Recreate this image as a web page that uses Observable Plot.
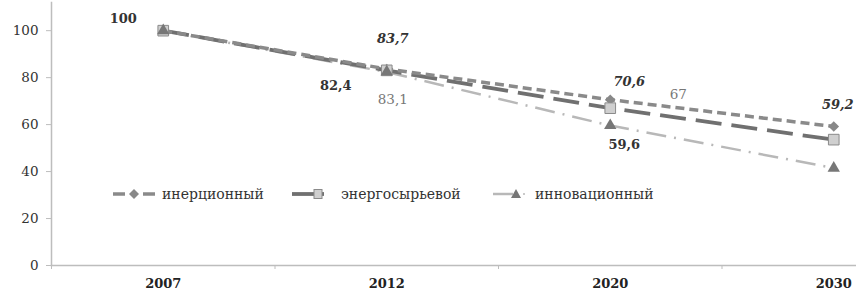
<!DOCTYPE html>
<html>
<head>
<meta charset="utf-8">
<script src="https://cdn.jsdelivr.net/npm/d3@7"></script>
<script src="https://cdn.jsdelivr.net/npm/@observablehq/plot@0.6"></script>
<style>
  html, body { margin: 0; padding: 0; background: #fff; overflow: hidden; }
  #wrap { position: relative; width: 856px; height: 302px; overflow: hidden; }
  .leg { position: absolute; display: flex; align-items: center; font-family: "DejaVu Serif", serif; font-size: 14px; color: #333; white-space: nowrap; }
  .leg svg { display: block; }
</style>
</head>
<body>
<div id="wrap"></div>
<script>
// ---- data ----
const years = ["2007", "2012", "2020", "2030"];
const inertial = [100, 83.7, 70.6, 59.2];
const energy = [100, 83.1, 67, 53.6];
const innovation = [100, 82.4, 59.6, 41.5];
const yTicks = [0, 20, 40, 60, 80, 100];
const seriesNames = ["инерционный", "энергосырьевой", "инновационный"];

// ---- helpers ----
const idx = years.map((_, i) => i);
const bounds = years.map((_, i) => i - 0.5);
const fmt = v => String(v).replace(".", ",");
const font = "DejaVu Serif";

function label(arr, i, opts) {
  return Plot.text([i], {
    x: d => d, y: d => arr[d], text: d => fmt(arr[d]),
    fontFamily: font, fontSize: 13, ...opts
  });
}

const chart = Plot.plot({
  width: 856, height: 302,
  marginLeft: 51, marginRight: 0, marginTop: 2, marginBottom: 37,
  style: { fontFamily: font, background: "#fff", overflow: "visible" },
  x: { type: "linear", domain: [-0.5, years.length - 0.5], range: [51, 945] },
  y: { domain: [0, 112] },
  marks: [
    Plot.frame({ anchor: "left", stroke: "#bdbdbd", strokeWidth: 1.5 }),
    Plot.frame({ anchor: "bottom", stroke: "#bdbdbd", strokeWidth: 1.5 }),
    Plot.axisY(yTicks, { tickSize: 5, tickPadding: 8, stroke: "#bdbdbd", fill: "#333", fontSize: 13.5, fontFamily: font }),
    Plot.axisX(bounds, { tickSize: 4, stroke: "#bdbdbd", tickFormat: () => "" }),
    Plot.axisX(idx, { tickSize: 0, tickPadding: 13, tickFormat: i => years[i], fill: "#222", fontWeight: "bold", fontSize: 13, fontFamily: font }),

    Plot.line(idx, { x: i => i, y: i => innovation[i], stroke: "#b8b8b8", strokeWidth: 2.5, strokeDasharray: "20,8,2,8", strokeLinecap: "butt" }),
    Plot.line(idx, { x: i => i, y: i => energy[i], stroke: "#707070", strokeWidth: 3.8, strokeDasharray: "26,10", strokeLinecap: "butt" }),
    Plot.line(idx, { x: i => i, y: i => inertial[i], stroke: "#8a8a8a", strokeWidth: 3.5, strokeDasharray: "9,5", strokeLinecap: "butt" }),

    Plot.dot(idx, { x: i => i, y: i => inertial[i], symbol: "diamond2", r: 4.8, fill: "#888", stroke: "none" }),
    Plot.dot(idx, { x: i => i, y: i => energy[i], symbol: "square", r: 6, fill: "#cfcfcf", stroke: "#8a8a8a", strokeWidth: 1 }),
    Plot.dot(idx, { x: i => i, y: i => innovation[i], symbol: "triangle", r: 4.6, fill: "#777", stroke: "none" }),

    label(innovation, 0, { dx: -40, dy: -12, fontWeight: "bold", fill: "#333" }),
    label(inertial, 1, { dx: 6, dy: -30, fontWeight: "bold", fontStyle: "italic", fill: "#333" }),
    label(innovation, 1, { dx: -51, dy: 14, fontWeight: "bold", fill: "#333" }),
    label(energy, 1, { dx: 6, dy: 29, fill: "#777", fontSize: 13.5 }),
    label(inertial, 2, { dx: 19, dy: -18, fontWeight: "bold", fontStyle: "italic", fill: "#333" }),
    label(energy, 2, { dx: 68, dy: -13, fill: "#777", fontSize: 13.5 }),
    label(innovation, 2, { dx: 14, dy: 19, fontWeight: "bold", fill: "#333" }),
    label(inertial, 3, { dx: 4, dy: -22, fontWeight: "bold", fontStyle: "italic", fill: "#333" })
  ]
});

const wrap = document.getElementById("wrap");
wrap.appendChild(chart);

// ---- legend (HTML overlay) ----
const swatches = [
  `<svg width="44" height="14"><line x1="0" y1="7" x2="12" y2="7" stroke="#8a8a8a" stroke-width="3.5"/><line x1="30" y1="7" x2="42" y2="7" stroke="#8a8a8a" stroke-width="3.5"/><path d="M21,2 L26,7 L21,12 L16,7 Z" fill="#888"/></svg>`,
  `<svg width="34" height="14"><line x1="0" y1="7" x2="32" y2="7" stroke="#707070" stroke-width="3.8"/><rect x="22" y="2.5" width="8" height="9" fill="#cfcfcf" stroke="#8a8a8a" stroke-width="1"/></svg>`,
  `<svg width="42" height="14"><line x1="0" y1="7" x2="20" y2="7" stroke="#b8b8b8" stroke-width="2.5"/><path d="M23,2 L28,11 L18,11 Z" fill="#777"/><circle cx="31" cy="7" r="1" fill="#b8b8b8"/></svg>`
];
const legPos = [{ left: 113, gap: 5 }, { left: 292, gap: 15 }, { left: 493, gap: 0 }];
seriesNames.forEach((name, k) => {
  const d = document.createElement("div");
  d.className = "leg";
  d.style.left = legPos[k].left + "px";
  d.style.top = "186px";
  d.innerHTML = swatches[k] + `<span style="margin-left:${legPos[k].gap}px">${name}</span>`;
  wrap.appendChild(d);
});
</script>
</body>
</html>
